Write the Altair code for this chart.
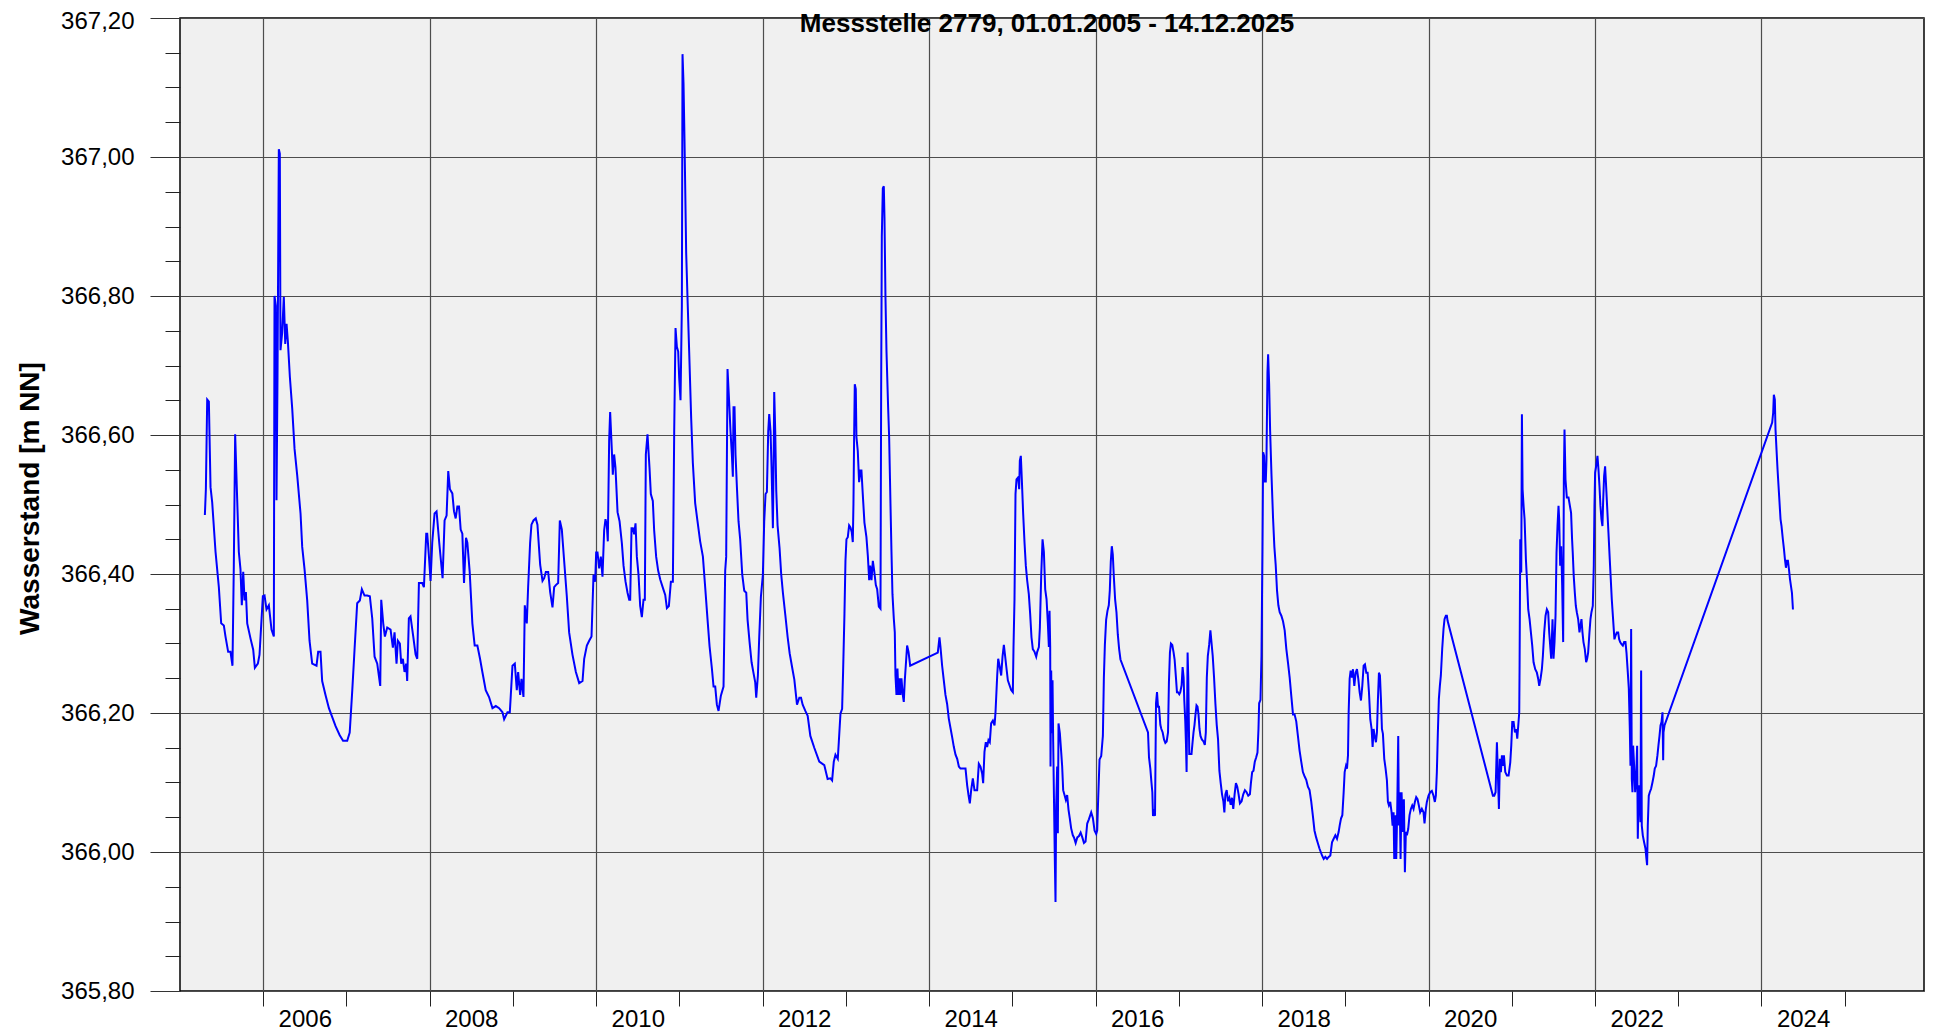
import altair as alt
import pandas as pd

# Water level readings (decimal year, m NN)
seg_2005_2009 = [
    (2005.299, 366.485), (2005.311, 366.522), (2005.327, 366.651), (2005.347, 366.648), (2005.367, 366.525),
    (2005.387, 366.503), (2005.427, 366.432), (2005.467, 366.381), (2005.495, 366.329), (2005.527, 366.326),
    (2005.547, 366.310), (2005.579, 366.288), (2005.607, 366.288), (2005.631, 366.268), (2005.647, 366.413),
    (2005.663, 366.601), (2005.687, 366.509), (2005.707, 366.432), (2005.727, 366.407), (2005.743, 366.355),
    (2005.760, 366.403), (2005.776, 366.362), (2005.792, 366.374), (2005.808, 366.329), (2005.848, 366.307),
    (2005.880, 366.291), (2005.900, 366.265), (2005.936, 366.271), (2005.956, 366.284), (2005.996, 366.368),
    (2006.016, 366.369), (2006.040, 366.349), (2006.068, 366.355), (2006.100, 366.320), (2006.128, 366.310),
    (2006.136, 366.800), (2006.152, 366.786), (2006.160, 366.506), (2006.172, 366.683), (2006.188, 367.011),
    (2006.200, 367.005), (2006.208, 366.722), (2006.228, 366.747), (2006.248, 366.799), (2006.265, 366.731),
    (2006.281, 366.760), (2006.297, 366.734), (2006.321, 366.683), (2006.349, 366.638), (2006.377, 366.580),
    (2006.409, 366.542), (2006.449, 366.487), (2006.469, 366.439), (2006.497, 366.407), (2006.529, 366.362),
    (2006.557, 366.304), (2006.589, 366.271), (2006.641, 366.268), (2006.661, 366.288), (2006.689, 366.288),
    (2006.709, 366.246), (2006.749, 366.226), (2006.790, 366.207), (2006.830, 366.194), (2006.870, 366.181),
    (2006.920, 366.168), (2006.960, 366.160), (2007.010, 366.160), (2007.040, 366.172), (2007.071, 366.233),
    (2007.098, 366.291), (2007.130, 366.358), (2007.162, 366.362), (2007.186, 366.378), (2007.218, 366.369),
    (2007.250, 366.369), (2007.282, 366.368), (2007.311, 366.336), (2007.339, 366.281), (2007.371, 366.271),
    (2007.407, 366.239), (2007.419, 366.363), (2007.443, 366.329), (2007.463, 366.310), (2007.491, 366.323),
    (2007.531, 366.320), (2007.559, 366.294), (2007.579, 366.316), (2007.603, 366.271), (2007.619, 366.304),
    (2007.643, 366.300), (2007.659, 366.271), (2007.679, 366.278), (2007.699, 366.259), (2007.719, 366.271),
    (2007.731, 366.246), (2007.751, 366.336), (2007.771, 366.339), (2007.804, 366.310), (2007.832, 366.284),
    (2007.852, 366.278), (2007.872, 366.387), (2007.912, 366.387), (2007.932, 366.381), (2007.960, 366.458),
    (2007.972, 366.458), (2007.992, 366.426), (2008.012, 366.390), (2008.032, 366.445), (2008.060, 366.487),
    (2008.084, 366.490), (2008.116, 366.445), (2008.156, 366.394), (2008.180, 366.477), (2008.204, 366.484),
    (2008.224, 366.548), (2008.244, 366.522), (2008.273, 366.516), (2008.293, 366.490), (2008.313, 366.480),
    (2008.333, 366.497), (2008.353, 366.497), (2008.373, 366.464), (2008.393, 366.458), (2008.413, 366.387),
    (2008.437, 366.452), (2008.453, 366.445), (2008.481, 366.403), (2008.513, 366.329), (2008.541, 366.297),
    (2008.573, 366.297), (2008.605, 366.278), (2008.633, 366.259), (2008.673, 366.233), (2008.713, 366.223),
    (2008.754, 366.207), (2008.794, 366.210), (2008.834, 366.207), (2008.874, 366.201), (2008.894, 366.191),
    (2008.934, 366.201), (2008.962, 366.201), (2008.974, 366.226), (2008.994, 366.268), (2009.022, 366.271),
    (2009.046, 366.233), (2009.062, 366.259), (2009.086, 366.226), (2009.102, 366.249), (2009.126, 366.223),
    (2009.142, 366.355), (2009.166, 366.329), (2009.182, 366.381), (2009.206, 366.445), (2009.222, 366.471),
    (2009.246, 366.477), (2009.274, 366.480), (2009.294, 366.471), (2009.327, 366.413), (2009.355, 366.390),
    (2009.375, 366.394), (2009.395, 366.403), (2009.423, 366.403), (2009.447, 366.374), (2009.475, 366.352),
    (2009.495, 366.381), (2009.515, 366.384), (2009.543, 366.387), (2009.563, 366.477), (2009.587, 366.464),
    (2009.615, 366.419), (2009.647, 366.368), (2009.675, 366.316), (2009.715, 366.284), (2009.756, 366.259),
    (2009.796, 366.243), (2009.836, 366.246), (2009.856, 366.278), (2009.888, 366.297), (2009.916, 366.304),
    (2009.944, 366.310),
]

seg_2010_2012 = [
    (2009.968, 366.399), (2009.988, 366.389), (2010.000, 366.431), (2010.016, 366.431), (2010.036, 366.408),
    (2010.056, 366.425), (2010.076, 366.396), (2010.096, 366.463), (2010.112, 366.479), (2010.128, 366.470),
    (2010.140, 366.447), (2010.156, 366.592), (2010.168, 366.633), (2010.188, 366.579), (2010.200, 366.543),
    (2010.216, 366.572), (2010.232, 366.553), (2010.257, 366.489), (2010.281, 366.476), (2010.309, 366.444),
    (2010.329, 366.412), (2010.353, 366.389), (2010.377, 366.373), (2010.397, 366.363), (2010.409, 366.363),
    (2010.425, 366.466), (2010.441, 366.466), (2010.457, 366.457), (2010.473, 366.473), (2010.489, 366.425),
    (2010.509, 366.399), (2010.529, 366.354), (2010.549, 366.338), (2010.569, 366.363), (2010.585, 366.363),
    (2010.597, 366.572), (2010.617, 366.601), (2010.641, 366.553), (2010.657, 366.515), (2010.681, 366.505),
    (2010.697, 366.463), (2010.721, 366.425), (2010.745, 366.405), (2010.770, 366.392), (2010.802, 366.380),
    (2010.830, 366.370), (2010.850, 366.351), (2010.874, 366.354), (2010.898, 366.389), (2010.922, 366.389),
    (2010.938, 366.605), (2010.954, 366.754), (2010.970, 366.727), (2010.986, 366.720), (2010.998, 366.682),
    (2011.014, 366.650), (2011.030, 366.785), (2011.038, 367.148), (2011.050, 367.106), (2011.062, 367.023),
    (2011.082, 366.862), (2011.098, 366.797), (2011.118, 366.720), (2011.142, 366.624), (2011.162, 366.560),
    (2011.190, 366.502), (2011.218, 366.476), (2011.250, 366.447), (2011.283, 366.425), (2011.311, 366.380),
    (2011.339, 366.334), (2011.363, 366.296), (2011.391, 366.264), (2011.411, 366.238), (2011.431, 366.238),
    (2011.451, 366.212), (2011.471, 366.203), (2011.499, 366.225), (2011.531, 366.238), (2011.551, 366.405),
    (2011.563, 366.425), (2011.579, 366.695), (2011.595, 366.656), (2011.615, 366.605), (2011.631, 366.572),
    (2011.643, 366.540), (2011.651, 366.640), (2011.663, 366.640), (2011.675, 366.572), (2011.691, 366.527),
    (2011.711, 366.476), (2011.731, 366.450), (2011.756, 366.399), (2011.780, 366.376), (2011.804, 366.373),
    (2011.820, 366.334), (2011.844, 366.302), (2011.868, 366.273), (2011.892, 366.257), (2011.912, 366.244),
    (2011.924, 366.222), (2011.944, 366.254), (2011.960, 366.309), (2011.980, 366.367), (2012.004, 366.399),
    (2012.020, 366.476), (2012.036, 366.515), (2012.052, 366.518), (2012.068, 366.605), (2012.080, 366.630),
    (2012.096, 366.605), (2012.108, 366.553), (2012.124, 366.466), (2012.132, 366.553), (2012.140, 366.662),
    (2012.152, 366.605), (2012.164, 366.521), (2012.180, 366.470), (2012.204, 366.437), (2012.224, 366.399),
    (2012.244, 366.373), (2012.273, 366.341), (2012.301, 366.309), (2012.325, 366.286), (2012.357, 366.264),
    (2012.381, 366.248), (2012.413, 366.212), (2012.441, 366.222), (2012.461, 366.222), (2012.481, 366.212),
    (2012.513, 366.203), (2012.541, 366.196), (2012.573, 366.167), (2012.620, 366.150), (2012.680, 366.130),
    (2012.740, 366.125), (2012.780, 366.105),
]

seg_2013_2015 = [
    (2012.814, 366.106), (2012.834, 366.103), (2012.854, 366.130), (2012.874, 366.140), (2012.902, 366.134),
    (2012.914, 366.158), (2012.934, 366.199), (2012.954, 366.206), (2012.966, 366.261), (2012.982, 366.343),
    (2012.994, 366.419), (2013.006, 366.450), (2013.022, 366.453), (2013.038, 366.470), (2013.054, 366.467),
    (2013.070, 366.460), (2013.082, 366.446), (2013.090, 366.501), (2013.098, 366.597), (2013.106, 366.673),
    (2013.118, 366.666), (2013.126, 366.597), (2013.142, 366.577), (2013.158, 366.532), (2013.174, 366.549),
    (2013.186, 366.549), (2013.202, 366.515), (2013.222, 366.474), (2013.246, 366.453), (2013.263, 366.426),
    (2013.279, 366.391), (2013.291, 366.412), (2013.307, 366.391), (2013.323, 366.419), (2013.339, 366.405),
    (2013.359, 366.384), (2013.375, 366.378), (2013.395, 366.353), (2013.415, 366.350), (2013.423, 366.666),
    (2013.431, 366.886), (2013.443, 366.955), (2013.455, 366.958), (2013.463, 366.913), (2013.475, 366.797),
    (2013.487, 366.721), (2013.507, 366.639), (2013.519, 366.597), (2013.535, 366.501), (2013.547, 366.432),
    (2013.559, 366.371), (2013.575, 366.336), (2013.587, 366.316), (2013.595, 366.254), (2013.607, 366.226),
    (2013.619, 366.264), (2013.631, 366.226), (2013.643, 366.250), (2013.655, 366.226), (2013.667, 366.250),
    (2013.683, 366.226), (2013.695, 366.216), (2013.707, 366.247), (2013.719, 366.268), (2013.735, 366.297),
    (2013.752, 366.288), (2013.772, 366.268), (2014.104, 366.287), (2014.124, 366.309), (2014.136, 366.295),
    (2014.156, 366.268), (2014.176, 366.247), (2014.196, 366.226), (2014.216, 366.213), (2014.236, 366.192),
    (2014.257, 366.178), (2014.277, 366.165), (2014.297, 366.151), (2014.317, 366.140), (2014.337, 366.134),
    (2014.357, 366.123), (2014.377, 366.120), (2014.409, 366.120), (2014.437, 366.120), (2014.457, 366.096),
    (2014.473, 366.082), (2014.489, 366.070), (2014.505, 366.089), (2014.525, 366.106), (2014.545, 366.089),
    (2014.577, 366.089), (2014.597, 366.127), (2014.617, 366.123), (2014.637, 366.113), (2014.649, 366.099),
    (2014.665, 366.144), (2014.681, 366.158), (2014.697, 366.151), (2014.713, 366.161), (2014.729, 366.158),
    (2014.745, 366.185), (2014.766, 366.189), (2014.786, 366.182), (2014.798, 366.202), (2014.818, 366.254),
    (2014.830, 366.278), (2014.846, 366.268), (2014.866, 366.254), (2014.882, 366.281), (2014.898, 366.298),
    (2014.914, 366.281), (2014.926, 366.268), (2014.946, 366.247), (2014.966, 366.240), (2014.986, 366.233),
    (2015.006, 366.230), (2015.014, 366.295), (2015.026, 366.364), (2015.038, 366.515), (2015.050, 366.536),
    (2015.070, 366.539), (2015.082, 366.522), (2015.090, 366.563), (2015.102, 366.570), (2015.114, 366.536),
    (2015.130, 366.487), (2015.146, 366.446), (2015.162, 366.412), (2015.178, 366.391), (2015.198, 366.371),
    (2015.214, 366.343), (2015.230, 366.309), (2015.246, 366.292), (2015.267, 366.288), (2015.287, 366.281),
    (2015.299, 366.288), (2015.319, 366.295), (2015.331, 366.323), (2015.347, 366.398), (2015.363, 366.450),
    (2015.379, 366.432), (2015.395, 366.378), (2015.411, 366.364), (2015.427, 366.329), (2015.439, 366.295),
    (2015.447, 366.347), (2015.455, 366.295), (2015.459, 366.123), (2015.467, 366.261), (2015.475, 366.171),
    (2015.483, 366.247), (2015.491, 366.158), (2015.499, 366.089), (2015.511, 365.986), (2015.519, 365.928),
    (2015.527, 366.068), (2015.539, 366.123), (2015.547, 366.027), (2015.555, 366.185), (2015.571, 366.171),
    (2015.587, 366.144), (2015.599, 366.123), (2015.611, 366.089), (2015.627, 366.082), (2015.643, 366.075),
    (2015.659, 366.082), (2015.675, 366.061), (2015.691, 366.048), (2015.707, 366.034), (2015.727, 366.024),
]

seg_2016_2018 = [
    (2015.741, 366.021), (2015.761, 366.013), (2015.781, 366.021), (2015.801, 366.023), (2015.821, 366.028),
    (2015.841, 366.021), (2015.861, 366.013), (2015.880, 366.015), (2015.900, 366.041), (2015.920, 366.047),
    (2015.948, 366.057), (2015.968, 366.049), (2015.988, 366.031), (2016.008, 366.026), (2016.020, 366.031),
    (2016.032, 366.078), (2016.048, 366.133), (2016.068, 366.138), (2016.088, 366.167), (2016.100, 366.251),
    (2016.112, 366.298), (2016.127, 366.334), (2016.143, 366.347), (2016.159, 366.355), (2016.171, 366.376),
    (2016.183, 366.418), (2016.195, 366.440), (2016.207, 366.428), (2016.219, 366.397), (2016.235, 366.363),
    (2016.251, 366.345), (2016.267, 366.313), (2016.283, 366.292), (2016.299, 366.277), (2016.629, 366.172),
    (2016.641, 366.136), (2016.657, 366.120), (2016.669, 366.102), (2016.681, 366.086), (2016.689, 366.052),
    (2016.701, 366.057), (2016.713, 366.052), (2016.725, 366.214), (2016.737, 366.230), (2016.749, 366.209),
    (2016.761, 366.209), (2016.777, 366.183), (2016.789, 366.177), (2016.805, 366.172), (2016.821, 366.162),
    (2016.837, 366.157), (2016.853, 366.159), (2016.869, 366.172), (2016.880, 366.245), (2016.892, 366.287),
    (2016.904, 366.300), (2016.920, 366.298), (2016.936, 366.287), (2016.948, 366.277), (2016.964, 366.251),
    (2016.976, 366.230), (2016.988, 366.230), (2017.004, 366.227), (2017.016, 366.230), (2017.032, 366.240),
    (2017.044, 366.266), (2017.056, 366.251), (2017.064, 366.219), (2017.076, 366.188), (2017.084, 366.157),
    (2017.092, 366.115), (2017.104, 366.287), (2017.112, 366.251), (2017.124, 366.141), (2017.135, 366.141),
    (2017.151, 366.141), (2017.163, 366.157), (2017.175, 366.172), (2017.187, 366.183), (2017.199, 366.198),
    (2017.211, 366.211), (2017.223, 366.209), (2017.235, 366.198), (2017.247, 366.177), (2017.259, 366.167),
    (2017.275, 366.162), (2017.295, 366.159), (2017.311, 366.154), (2017.323, 366.172), (2017.335, 366.251),
    (2017.347, 366.282), (2017.363, 366.298), (2017.378, 366.319), (2017.390, 366.303), (2017.406, 366.282),
    (2017.422, 366.251), (2017.438, 366.214), (2017.454, 366.183), (2017.470, 366.162), (2017.486, 366.117),
    (2017.502, 366.099), (2017.518, 366.083), (2017.534, 366.073), (2017.546, 366.057), (2017.558, 366.083),
    (2017.574, 366.089), (2017.590, 366.073), (2017.606, 366.078), (2017.622, 366.068), (2017.637, 366.078),
    (2017.653, 366.062), (2017.669, 366.083), (2017.685, 366.099), (2017.701, 366.094), (2017.717, 366.083),
    (2017.733, 366.070), (2017.753, 366.073), (2017.773, 366.083), (2017.793, 366.089), (2017.813, 366.086),
    (2017.833, 366.081), (2017.853, 366.083), (2017.865, 366.099), (2017.880, 366.115), (2017.896, 366.117),
    (2017.912, 366.130), (2017.928, 366.136), (2017.944, 366.143), (2017.956, 366.177), (2017.964, 366.214),
    (2017.980, 366.219), (2017.992, 366.282), (2018.004, 366.439), (2018.012, 366.575), (2018.024, 366.570),
    (2018.032, 366.533), (2018.044, 366.533), (2018.052, 366.564), (2018.064, 366.690), (2018.072, 366.716),
    (2018.084, 366.674), (2018.096, 366.606), (2018.112, 366.544), (2018.131, 366.481), (2018.147, 366.439),
    (2018.163, 366.413), (2018.179, 366.376), (2018.195, 366.355), (2018.211, 366.345), (2018.231, 366.340),
    (2018.251, 366.332), (2018.271, 366.319), (2018.291, 366.292), (2018.311, 366.272), (2018.331, 366.251),
    (2018.351, 366.224), (2018.371, 366.198), (2018.390, 366.198), (2018.410, 366.188), (2018.430, 366.167),
    (2018.450, 366.146), (2018.470, 366.130), (2018.490, 366.115), (2018.510, 366.109), (2018.530, 366.104),
    (2018.550, 366.094), (2018.570, 366.089), (2018.590, 366.073), (2018.610, 366.052), (2018.629, 366.031),
    (2018.649, 366.021), (2018.669, 366.013), (2018.689, 366.005),
]

seg_2019_2021 = [
    (2018.720, 365.995), (2018.740, 365.990), (2018.760, 365.993), (2018.780, 365.990), (2018.800, 365.993),
    (2018.820, 365.995), (2018.840, 366.014), (2018.860, 366.019), (2018.880, 366.024), (2018.900, 366.019),
    (2018.920, 366.029), (2018.932, 366.038), (2018.948, 366.048), (2018.964, 366.053), (2018.980, 366.086),
    (2018.992, 366.115), (2019.008, 366.124), (2019.020, 366.120), (2019.032, 366.139), (2019.040, 366.201),
    (2019.052, 366.249), (2019.064, 366.261), (2019.080, 366.251), (2019.092, 366.263), (2019.108, 366.239),
    (2019.124, 366.258), (2019.140, 366.263), (2019.156, 366.249), (2019.172, 366.230), (2019.188, 366.218),
    (2019.204, 366.239), (2019.220, 366.268), (2019.236, 366.270), (2019.252, 366.258), (2019.268, 366.258),
    (2019.284, 366.230), (2019.300, 366.191), (2019.316, 366.177), (2019.328, 366.151), (2019.340, 366.177),
    (2019.352, 366.167), (2019.368, 366.158), (2019.380, 366.172), (2019.392, 366.220), (2019.404, 366.258),
    (2019.416, 366.254), (2019.428, 366.220), (2019.440, 366.177), (2019.452, 366.170), (2019.468, 366.134),
    (2019.484, 366.120), (2019.500, 366.103), (2019.512, 366.072), (2019.524, 366.067), (2019.540, 366.072),
    (2019.556, 366.057), (2019.568, 366.038), (2019.580, 366.057), (2019.588, 365.990), (2019.600, 366.053),
    (2019.612, 365.990), (2019.624, 366.062), (2019.636, 366.167), (2019.644, 366.038), (2019.652, 366.086),
    (2019.664, 365.990), (2019.676, 366.086), (2019.692, 366.029), (2019.704, 366.076), (2019.716, 365.971),
    (2019.728, 366.029), (2019.740, 366.024), (2019.756, 366.033), (2019.772, 366.053), (2019.788, 366.062),
    (2019.804, 366.067), (2019.820, 366.062), (2019.836, 366.072), (2019.852, 366.079), (2019.868, 366.076),
    (2019.884, 366.067), (2019.900, 366.057), (2019.920, 366.062), (2019.940, 366.057), (2019.952, 366.041),
    (2019.968, 366.062), (2019.980, 366.072), (2020.000, 366.081), (2020.020, 366.086), (2020.040, 366.088),
    (2020.060, 366.081), (2020.076, 366.072), (2020.088, 366.081), (2020.100, 366.115), (2020.112, 366.172),
    (2020.124, 366.220), (2020.136, 366.239), (2020.148, 366.254), (2020.164, 366.292), (2020.180, 366.321),
    (2020.192, 366.335), (2020.208, 366.340), (2020.220, 366.340), (2020.228, 366.333), (2020.772, 366.081),
    (2020.788, 366.081), (2020.804, 366.086), (2020.820, 366.158), (2020.832, 366.110), (2020.844, 366.062),
    (2020.856, 366.134), (2020.868, 366.115), (2020.880, 366.139), (2020.892, 366.124), (2020.904, 366.139),
    (2020.920, 366.115), (2020.940, 366.110), (2020.960, 366.110), (2020.980, 366.129), (2020.992, 366.153),
    (2021.004, 366.187), (2021.020, 366.187), (2021.036, 366.172), (2021.052, 366.177), (2021.064, 366.163),
    (2021.076, 366.182), (2021.088, 366.201), (2021.092, 366.268), (2021.100, 366.450), (2021.112, 366.402),
    (2021.120, 366.630), (2021.128, 366.522), (2021.140, 366.498), (2021.152, 366.479), (2021.168, 366.421),
    (2021.180, 366.393), (2021.196, 366.349), (2021.212, 366.335), (2021.228, 366.316), (2021.244, 366.297),
    (2021.260, 366.273), (2021.280, 366.263), (2021.300, 366.258), (2021.316, 366.249), (2021.328, 366.239),
    (2021.344, 366.249), (2021.360, 366.263), (2021.372, 366.282), (2021.388, 366.316), (2021.404, 366.340),
    (2021.420, 366.349), (2021.436, 366.345), (2021.448, 366.316), (2021.460, 366.297), (2021.472, 366.278),
    (2021.488, 366.335), (2021.500, 366.278), (2021.512, 366.302), (2021.524, 366.340), (2021.536, 366.431),
    (2021.548, 366.469), (2021.560, 366.498), (2021.568, 366.479), (2021.580, 366.412), (2021.592, 366.440),
    (2021.604, 366.383), (2021.616, 366.302), (2021.624, 366.536), (2021.632, 366.608), (2021.644, 366.536),
    (2021.660, 366.510), (2021.680, 366.510),
]

seg_2022_2024 = [
    (2021.711, 366.488), (2021.723, 366.450), (2021.731, 366.431), (2021.743, 366.397), (2021.756, 366.373),
    (2021.768, 366.354), (2021.780, 366.345), (2021.796, 366.335), (2021.812, 366.316), (2021.824, 366.326),
    (2021.836, 366.335), (2021.848, 366.316), (2021.860, 366.302), (2021.876, 366.292), (2021.892, 366.273),
    (2021.904, 366.278), (2021.916, 366.287), (2021.932, 366.316), (2021.944, 366.335), (2021.956, 366.345),
    (2021.972, 366.354), (2021.984, 366.412), (2021.992, 366.498), (2022.000, 366.546), (2022.012, 366.555),
    (2022.028, 366.570), (2022.040, 366.551), (2022.052, 366.527), (2022.064, 366.498), (2022.076, 366.479),
    (2022.088, 366.469), (2022.096, 366.503), (2022.108, 366.541), (2022.120, 366.555), (2022.132, 366.527),
    (2022.144, 366.498), (2022.160, 366.460), (2022.176, 366.421), (2022.188, 366.393), (2022.200, 366.364),
    (2022.216, 366.335), (2022.232, 366.306), (2022.244, 366.311), (2022.261, 366.316), (2022.277, 366.316),
    (2022.289, 366.306), (2022.301, 366.302), (2022.317, 366.299), (2022.333, 366.297), (2022.349, 366.302),
    (2022.365, 366.302), (2022.377, 366.287), (2022.393, 366.258), (2022.405, 366.235), (2022.417, 366.177),
    (2022.425, 366.124), (2022.433, 366.321), (2022.441, 366.105), (2022.449, 366.086), (2022.457, 366.153),
    (2022.469, 366.124), (2022.481, 366.086), (2022.493, 366.105), (2022.505, 366.153), (2022.513, 366.019),
    (2022.525, 366.096), (2022.537, 366.076), (2022.545, 366.043), (2022.553, 366.261), (2022.561, 366.038),
    (2022.573, 366.024), (2022.589, 366.014), (2022.605, 366.005), (2022.617, 365.990), (2022.625, 365.981),
    (2022.633, 366.038), (2022.645, 366.081), (2022.657, 366.086), (2022.673, 366.091), (2022.689, 366.100),
    (2022.705, 366.110), (2022.717, 366.120), (2022.733, 366.124), (2022.749, 366.139), (2022.761, 366.153),
    (2022.774, 366.167), (2022.786, 366.182), (2022.798, 366.187), (2022.810, 366.201), (2022.818, 366.132),
    (2022.822, 366.172), (2022.834, 366.182), (2024.128, 366.618), (2024.140, 366.632), (2024.148, 366.658),
    (2024.160, 366.651), (2024.168, 366.608), (2024.180, 366.579), (2024.192, 366.551), (2024.204, 366.527),
    (2024.216, 366.503), (2024.228, 366.479), (2024.240, 366.469), (2024.256, 366.450), (2024.269, 366.436),
    (2024.281, 366.421), (2024.293, 366.409), (2024.305, 366.419), (2024.317, 366.419), (2024.329, 366.407),
    (2024.341, 366.393), (2024.353, 366.383), (2024.365, 366.373), (2024.377, 366.349),
]

segments = [seg_2005_2009, seg_2010_2012, seg_2013_2015, seg_2016_2018, seg_2019_2021, seg_2022_2024]

y_major = [365.8, 366.0, 366.2, 366.4, 366.6, 366.8, 367.0, 367.2]
y_minor = [round(365.8 + 0.05 * i, 2) for i in range(29)]
x_years = list(range(2006, 2026))

TITLE = "Messstelle 2779, 01.01.2005 - 14.12.2025"
Y_TITLE = "Wasserstand [m NN]"
FONT = "Liberation Sans"
PLOT_W = 1744
PLOT_H = 973


def frac_year(t):
    y = int(t)
    start = pd.Timestamp(year=y, month=1, day=1)
    end = pd.Timestamp(year=y + 1, month=1, day=1)
    return (start + (end - start) * (t - y)).round("min")


rows = [{"date": frac_year(t), "value": v} for seg in segments for (t, v) in seg]
df = pd.DataFrame(rows).sort_values("date").reset_index(drop=True)
title_df = pd.DataFrame({"label": [TITLE]})

x_scale = alt.Scale(domain=[alt.DateTime(year=2005, month=1, date=1),
                            alt.DateTime(year=2025, month=12, date=14)], nice=False)
y_scale = alt.Scale(domain=[365.8, 367.2], nice=False, zero=False)

x_axis = alt.Axis(
    values=[alt.DateTime(year=y, month=1, date=1) for y in x_years],
    orient="bottom",
    domain=False,
    ticks=True, tickSize=15, tickColor="#222222", tickWidth=1,
    grid=True, gridColor="#4d4d4d", gridWidth=1.2,
    gridOpacity={"condition": {"test": "year(datum.value) % 2 === 0", "value": 1}, "value": 0},
    labelExpr="year(datum.value) % 2 === 0 ? timeFormat(datum.value, '%Y') : ''",
    labelOffset=41.6, labelPadding=1, labelFont=FONT, labelFontSize=24, labelColor="black",
    labelFlush=False, labelOverlap=False, labelBaseline="top",
    title=None,
)

y_axis_major = alt.Axis(
    values=y_major, orient="left", domain=False,
    ticks=True, tickSize=30, tickColor="#333333", tickWidth=1,
    grid=True, gridColor="#4d4d4d", gridWidth=1.2,
    labelExpr="replace(format(datum.value, '.2f'), '.', ',')",
    labelOffset={"condition": {"test": "datum.value > 367.1", "value": 3.5}, "value": 0},
    labelFont=FONT, labelFontSize=24, labelColor="black", labelPadding=16,
    labelOverlap=False, labelFlush=False,
    title=Y_TITLE, titleFont=FONT, titleFontSize=28, titleFontWeight="bold", titleColor="black",
    titleAngle=270, titleAlign="center", titleBaseline="alphabetic", titleX=-142, titleY=480,
)

y_axis_minor = alt.Axis(
    values=y_minor, orient="left", domain=False,
    ticks=True, tickSize=15, tickColor="#222222", tickWidth=1,
    grid=False, labels=False, title=None,
)

minor_layer = alt.Chart(df).mark_line(opacity=0).encode(
    x=alt.X("date:T", scale=x_scale, axis=x_axis),
    y=alt.Y("value:Q", scale=y_scale, axis=y_axis_minor),
)

line_layer = alt.Chart(df).mark_line(color="#0000ff", strokeWidth=2.0, clip=True).encode(
    x=alt.X("date:T", scale=x_scale, axis=x_axis),
    y=alt.Y("value:Q", scale=y_scale, axis=y_axis_major),
)

title_layer = alt.Chart(title_df).mark_text(
    font=FONT, fontSize=26, fontWeight="bold", color="black",
    align="center", baseline="alphabetic",
).encode(
    text="label:N",
    x=alt.value(PLOT_W / 2 - 5),
    y=alt.value(14),
)

chart = (
    alt.layer(minor_layer, line_layer, title_layer)
    .resolve_axis(y="independent")
    .properties(
        width=PLOT_W,
        height=PLOT_H,
        padding={"left": 172, "top": 10, "right": 1, "bottom": 44},
        autosize=alt.AutoSizeParams(type="none"),
        background="white",
    )
    .configure_view(fill="#f0f0f0", stroke="black", strokeWidth=1.5)
)

chart.save("out.html", embed_options={"renderer": "svg", "actions": False})
